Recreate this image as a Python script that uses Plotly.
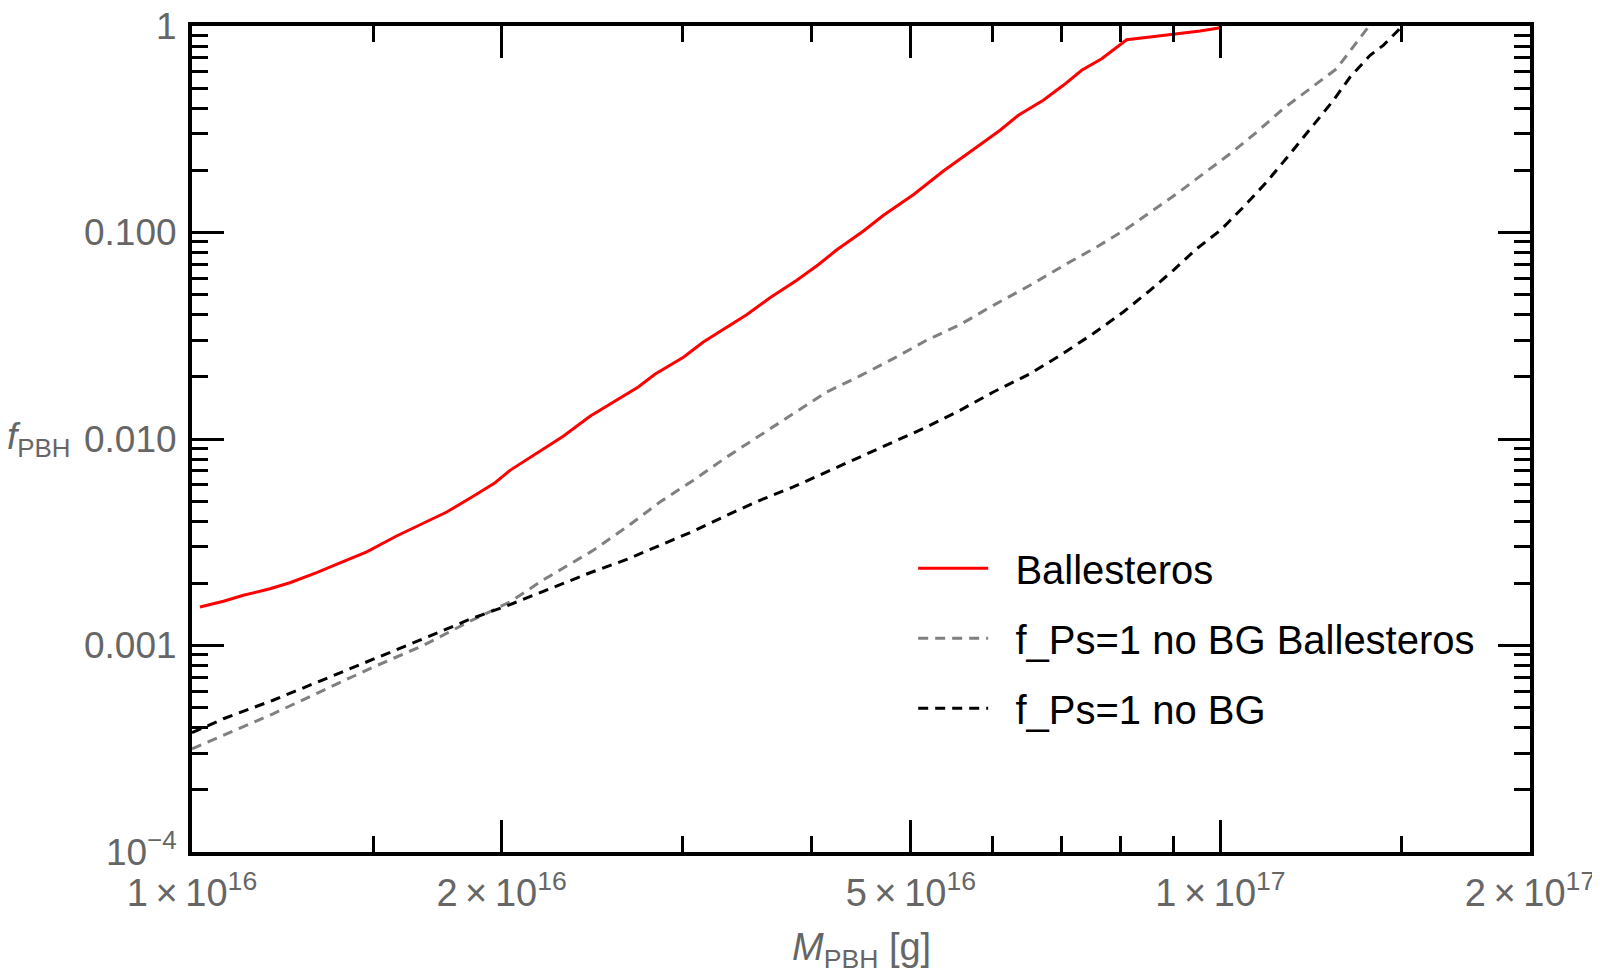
import plotly.graph_objects as go

# PBH mass [g] and abundance limits
m_ball = [1.018e16, 1.073e16, 1.122e16, 1.191e16, 1.245e16, 1.322e16, 1.393e16, 1.479e16,
          1.581e16, 1.679e16, 1.769e16, 1.877e16, 1.971e16, 2.038e16, 2.163e16, 2.296e16,
          2.438e16, 2.716e16, 2.819e16, 3.005e16, 3.142e16, 3.462e16, 3.648e16, 3.873e16,
          4.064e16, 4.237e16, 4.497e16, 4.703e16, 5.028e16, 5.378e16, 5.707e16, 6.106e16,
          6.361e16, 6.726e16, 7.035e16, 7.330e16, 7.666e16, 8.107e16, 8.543e16, 8.999e16,
          9.555e16, 1.0e17]
f_ball = [1.536e-3, 1.637e-3, 1.750e-3, 1.884e-3, 2.014e-3, 2.253e-3, 2.51e-3, 2.84e-3,
          3.39e-3, 3.91e-3, 4.43e-3, 5.28e-3, 6.14e-3, 7.05e-3, 8.49e-3, 1.031e-2,
          1.288e-2, 1.786e-2, 2.057e-2, 2.49e-2, 2.95e-2, 4.00e-2, 4.83e-2, 5.87e-2,
          6.98e-2, 8.25e-2, 0.1017, 0.1211, 0.1524, 0.1985, 0.2453, 0.3126,
          0.3694, 0.4368, 0.5163, 0.6101, 0.6946, 0.8584, 0.8846, 0.9116,
          0.9458, 0.98]

m_nobg_ball = [1.0e16, 1.073e16, 1.199e16, 1.342e16, 1.501e16, 1.679e16, 1.863e16, 2.038e16,
               2.196e16, 2.456e16, 2.647e16, 2.851e16, 3.073e16, 3.311e16, 3.567e16,
               3.843e16, 4.142e16, 4.462e16, 4.808e16, 5.181e16, 5.582e16, 6.015e16, 6.530e16,
               7.089e16, 7.582e16, 8.107e16, 8.543e16, 9.069e16, 9.625e16, 1.022e17, 1.085e17,
               1.151e17, 1.222e17, 1.297e17, 1.395e17]
f_nobg_ball = [3.16e-4, 3.67e-4, 4.67e-4, 6.07e-4, 7.87e-4, 1.002e-3, 1.31e-3, 1.625e-3,
               2.08e-3, 2.89e-3, 3.75e-3, 4.95e-3, 6.31e-3, 8.18e-3, 1.042e-2,
               1.326e-2, 1.689e-2, 2.02e-2, 2.45e-2, 3.01e-2, 3.58e-2, 4.44e-2, 5.55e-2,
               7.06e-2, 8.51e-2, 0.1043, 0.1257, 0.1541, 0.1926, 0.2407, 0.3067,
               0.3977, 0.497, 0.621, 1.0]

m_nobg = [1.0e16, 1.073e16, 1.199e16, 1.342e16, 1.501e16, 1.679e16, 1.863e16, 2.038e16,
          2.196e16, 2.438e16, 2.647e16, 2.851e16, 3.073e16, 3.311e16, 3.567e16, 3.843e16,
          4.142e16, 4.462e16, 4.808e16, 5.181e16, 5.582e16, 6.015e16, 6.530e16, 6.983e16,
          7.524e16, 8.046e16, 8.543e16, 8.999e16, 9.484e16, 1.0e17, 1.053e17, 1.109e17,
          1.169e17, 1.231e17, 1.288e17, 1.337e17, 1.398e17, 1.440e17, 1.489e17, 1.495e17]
f_nobg = [3.78e-4, 4.42e-4, 5.43e-4, 6.83e-4, 8.54e-4, 1.079e-3, 1.34e-3, 1.577e-3,
          1.83e-3, 2.25e-3, 2.61e-3, 3.06e-3, 3.58e-3, 4.27e-3, 5.05e-3, 5.86e-3,
          6.92e-3, 8.18e-3, 9.67e-3, 1.143e-2, 1.377e-2, 1.689e-2, 2.07e-2, 2.54e-2,
          3.24e-2, 4.12e-2, 5.25e-2, 6.56e-2, 8.35e-2, 0.1025, 0.1329, 0.1756,
          0.2407, 0.3304, 0.4368, 0.566, 0.721, 0.806, 0.953, 0.985]

# ticks
x_major = [1e16, 2e16, 5e16, 1e17, 2e17]
x_major_text = ["1\u2009×\u200910<sup>16</sup>", "2\u2009×\u200910<sup>16</sup>",
                "5\u2009×\u200910<sup>16</sup>", "1\u2009×\u200910<sup>17</sup>",
                "2\u2009×\u200910<sup>17</sup>"]
x_minor = [1.5e16, 3e16, 4e16, 6e16, 7e16, 8e16, 9e16, 1.5e17]
y_major = [1e-4, 1e-3, 1e-2, 1e-1, 1]
y_major_text = ["10<sup>−4</sup>", "0.001", "0.010", "0.100", "1"]
y_minor = [k * d for d in [1e-4, 1e-3, 1e-2, 1e-1] for k in range(2, 10)]

FONT = "Liberation Sans, Arial, Helvetica, sans-serif"
GREY = "#666666"
PAD = "\u00a0\u00a0"  # little gap between legend line and label

fig = go.Figure()
fig.add_trace(go.Scatter(x=m_ball, y=f_ball, mode="lines", name=PAD + "Ballesteros",
                         legendgroup="a",
                         line=dict(color="red", width=3)))
fig.add_trace(go.Scatter(x=m_nobg_ball, y=f_nobg_ball, mode="lines",
                         name=PAD + "f_Ps=1 no BG Ballesteros", legendgroup="b",
                         line=dict(color="#808080", width=3, dash="10px,7px")))
fig.add_trace(go.Scatter(x=m_nobg, y=f_nobg, mode="lines", name=PAD + "f_Ps=1 no BG",
                         legendgroup="c",
                         line=dict(color="black", width=3, dash="10px,7px")))

axis_common = dict(type="log", showgrid=False, zeroline=False, automargin=False,
                   showline=True, linecolor="black", linewidth=4, mirror="allticks",
                   ticks="inside", ticklen=32, tickwidth=3, tickcolor="black",
                   ticklabeloverflow="allow")

fig.update_xaxes(range=[16, 17.30103], tickmode="array", tickvals=x_major,
                 ticktext=x_major_text, ticklabelstandoff=4,
                 tickfont=dict(family=FONT, size=38, color=GREY),
                 minor=dict(tickmode="array", tickvals=x_minor, ticks="inside",
                            ticklen=16, tickwidth=3, tickcolor="black", showgrid=False),
                 **axis_common)
fig.update_yaxes(range=[-4, 0], tickmode="array", tickvals=y_major,
                 ticktext=y_major_text, ticklabelstandoff=4,
                 tickfont=dict(family=FONT, size=37, color=GREY),
                 minor=dict(tickmode="array", tickvals=y_minor, ticks="inside",
                            ticklen=16, tickwidth=3, tickcolor="black", showgrid=False),
                 **axis_common)

fig.add_annotation(text="<i>M</i><sub>PBH</sub> [g]", xref="paper", yref="paper",
                   x=0.5, y=-0.119, xanchor="center", yanchor="middle", showarrow=False,
                   font=dict(family=FONT, size=38, color=GREY))
fig.add_annotation(text="<i>f</i><sub>PBH</sub>", xref="paper", yref="paper",
                   x=-0.140, y=0.5, xanchor="left", yanchor="middle", showarrow=False,
                   font=dict(family=FONT, size=37, color=GREY))

# the page body adds an 8px offset, so the figure is 8px smaller and margins shifted
fig.update_layout(width=1592, height=966,
                  margin=dict(l=184, r=70, t=18, b=122),
                  paper_bgcolor="white", plot_bgcolor="white",
                  font=dict(family=FONT, color="black"),
                  showlegend=True,
                  legend=dict(x=0.539, y=0.383, xanchor="left", yanchor="top",
                              bgcolor="rgba(0,0,0,0)", tracegroupgap=15, itemwidth=70,
                              font=dict(family=FONT, size=40, color="black")))

fig.write_html("out.html")
